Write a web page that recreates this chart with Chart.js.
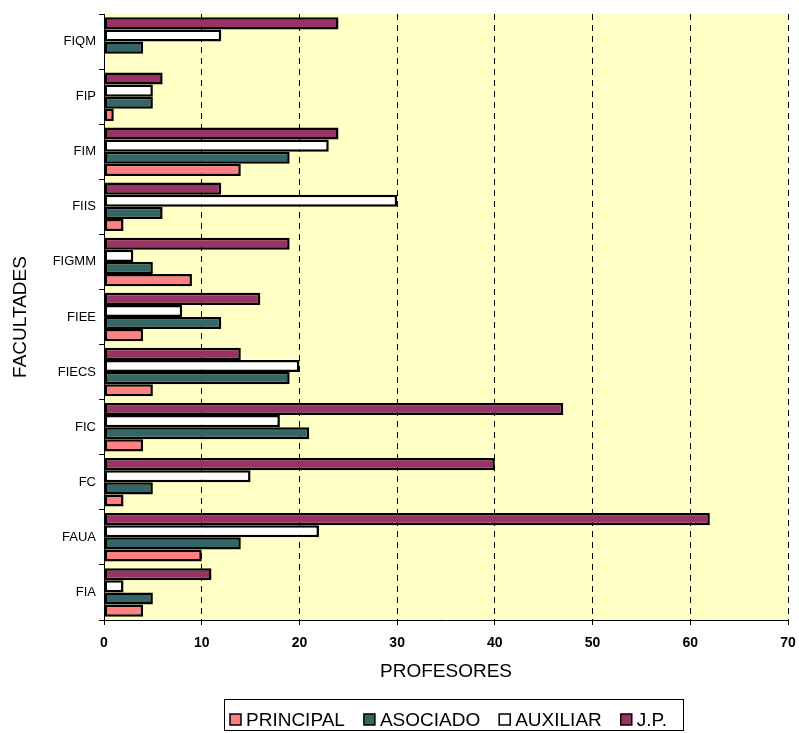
<!DOCTYPE html>
<html>
<head>
<meta charset="utf-8">
<script src="https://cdn.jsdelivr.net/npm/chart.js@4"></script>
<style>
  html, body { margin: 0; padding: 0; background: #fff; }
  #wrap { width: 799px; height: 733px; }
</style>
</head>
<body>
<div id="wrap"><canvas id="myChart" width="799" height="733"></canvas></div>
<script>
// facultades, top to bottom
var facultades = ['FIQM', 'FIP', 'FIM', 'FIIS', 'FIGMM', 'FIEE', 'FIECS', 'FIC', 'FC', 'FAUA', 'FIA'];

var principal = [0, 1, 14, 2, 9, 4, 5, 4, 2, 10, 4];
var asociado  = [4, 5, 19, 6, 5, 12, 19, 21, 5, 14, 5];
var auxiliar  = [12, 5, 23, 30, 3, 8, 20, 18, 15, 22, 2];
var jp        = [24, 6, 24, 12, 19, 16, 14, 47, 40, 62, 11];

var xTicks = [0, 10, 20, 30, 40, 50, 60, 70];

var FONT = 'Liberation Sans, Arial, sans-serif';

// yellow plot area, and the boxed legend under the axis title
var plotBg = {
    id: 'plotBg',
    beforeDraw: function (chart) {
        var a = chart.chartArea;
        var ctx = chart.ctx;
        ctx.save();
        ctx.fillStyle = '#FFFFC6';
        ctx.fillRect(a.left, a.top, a.right - a.left, a.bottom - a.top);
        ctx.restore();
    },
    afterDraw: function (chart) {
        var ctx = chart.ctx;
        ctx.save();
        ctx.strokeStyle = '#000';
        ctx.lineWidth = 1;
        ctx.strokeRect(224.5, 699.5, 459, 31);
        ctx.font = '19px ' + FONT;
        ctx.textBaseline = 'middle';
        ctx.textAlign = 'left';
        var x = 230;
        var cy = 720;
        var sets = chart.data.datasets;
        for (var i = sets.length - 1; i >= 0; i--) {
            var ds = sets[i];
            ctx.fillStyle = ds.backgroundColor;
            ctx.fillRect(x, cy - 6, 11, 11);
            ctx.lineWidth = 1.5;
            ctx.strokeStyle = '#000';
            ctx.strokeRect(x, cy - 6, 11, 11);
            ctx.fillStyle = '#000';
            ctx.fillText(ds.label, x + 16, cy + 1);
            x = x + 16 + ctx.measureText(ds.label).width + 19;
        }
        ctx.restore();
    }
};

var ctx = document.getElementById('myChart').getContext('2d');
var myChart = new Chart(ctx, {
    type: 'bar',
    data: {
        labels: facultades,
        datasets: [
            { label: 'J.P.', data: jp, backgroundColor: '#993366' },
            { label: 'AUXILIAR', data: auxiliar, backgroundColor: '#FFFFFF' },
            { label: 'ASOCIADO', data: asociado, backgroundColor: '#336666' },
            { label: 'PRINCIPAL', data: principal, backgroundColor: '#FF8080' }
        ]
    },
    options: {
        indexAxis: 'y',
        responsive: false,
        animation: false,
        datasets: {
            bar: {
                borderColor: '#000',
                borderWidth: 2.5,
                borderSkipped: false,
                categoryPercentage: 0.88,
                barPercentage: 1.0
            }
        },
        layout: { padding: { top: 14, right: 11, left: 0, bottom: 50 } },
        plugins: {
            tooltip: { enabled: false },
            legend: { display: false }
        },
        scales: {
            x: {
                min: 0,
                max: 70,
                afterBuildTicks: function (scale) {
                    scale.ticks = xTicks.map(function (v) { return { value: v }; });
                },
                afterFit: function (scale) {
                    scale.height = 63;
                    scale.paddingRight = 0;
                    scale.paddingLeft = 0;
                },
                ticks: {
                    color: '#000',
                    font: { family: FONT, size: 14, weight: 'bold' },
                    padding: 10,
                    maxRotation: 0
                },
                grid: {
                    color: '#000',
                    lineWidth: 1,
                    tickLength: 5,
                    tickColor: '#000'
                },
                border: { display: true, color: '#000', width: 1, dash: [6, 5] },
                title: {
                    display: true,
                    text: 'PROFESORES',
                    color: '#000',
                    font: { family: FONT, size: 19 },
                    padding: { top: 0, bottom: 0 }
                }
            },
            y: {
                afterFit: function (scale) { scale.width = 104; },
                ticks: {
                    color: '#000',
                    font: { family: FONT, size: 13 },
                    padding: 3
                },
                grid: {
                    offset: true,
                    drawOnChartArea: false,
                    tickLength: 5,
                    tickColor: '#000',
                    color: '#000'
                },
                border: { display: true, color: '#000', width: 1 },
                title: {
                    display: true,
                    text: 'FACULTADES',
                    color: '#000',
                    font: { family: FONT, size: 19 },
                    padding: { top: 9, bottom: 0 }
                }
            }
        }
    },
    plugins: [plotBg]
});
</script>
</body>
</html>
